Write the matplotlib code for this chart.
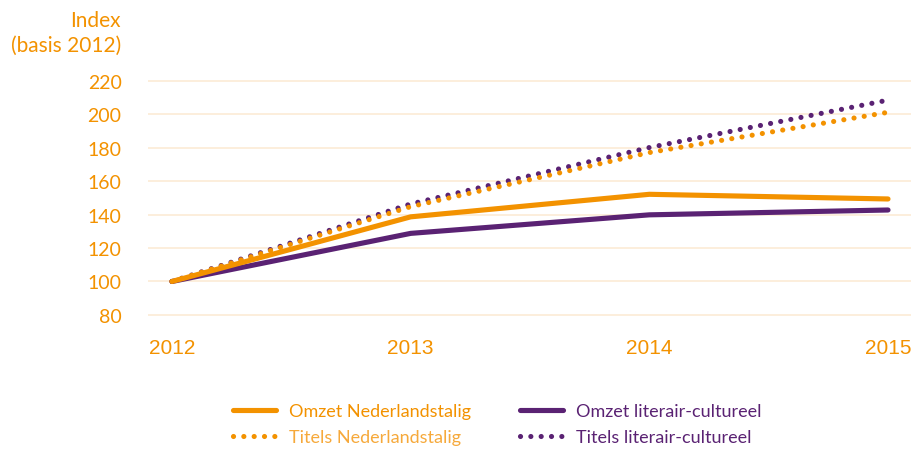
import matplotlib
matplotlib.use('Agg')
import matplotlib.pyplot as plt

plt.rcParams['font.family'] = ['Lato', 'DejaVu Sans']

orange = '#F39200'
orange_light = '#F6A93B'
purple = '#5A2273'
grid_col = '#FCEBD6'

years = [2012, 2013, 2014, 2015]
omzet_nl = [100, 138.7, 152.2, 149.4]
omzet_lit = [100, 128.8, 139.9, 142.8]
titels_nl = [100, 144.8, 177.2, 201.3]
titels_lit = [100, 146.4, 180.2, 208.6]
yticks = [80, 100, 120, 140, 160, 180, 200, 220]

fig = plt.figure(figsize=(9.12, 4.52), dpi=100)
ax = fig.add_axes([0.1623, 0.2938, 0.8377, 0.532])

lw = 3.7
dot = (0, (0.01, 2.0))
l1, = ax.plot(years, omzet_nl, color=orange, lw=lw, solid_capstyle='round',
              solid_joinstyle='round', label='Omzet Nederlandstalig', zorder=4)
l3, = ax.plot(years, omzet_lit, color=purple, lw=lw, solid_capstyle='round',
              solid_joinstyle='round', label='Omzet literair-cultureel', zorder=3)
l2, = ax.plot(years, titels_nl, color=orange, lw=lw, linestyle=dot,
              dash_capstyle='round', label='Titels Nederlandstalig', zorder=2)
l4, = ax.plot(years, titels_lit, color=purple, lw=lw, linestyle=dot,
              dash_capstyle='round', label='Titels literair-cultureel', zorder=1)

ax.set_xlim(2012 - 24 / 238.7, 2015 + 24 / 238.7)
ax.set_ylim(78, 222)
ax.set_yticks(yticks)
ax.set_xticks(years)
ax.set_xticklabels([str(y) for y in years], family=['Liberation Sans'])
ax.yaxis.grid(True, color=grid_col, lw=1.2)
ax.set_axisbelow(True)
for s in ax.spines.values():
    s.set_visible(False)
ax.tick_params(axis='y', length=0, pad=19, labelsize=14, labelcolor=orange)
ax.tick_params(axis='x', length=0, pad=14, labelsize=15, labelcolor=orange)

fig.text(121 / 912, 1 - 11 / 452, 'Index\n(basis 2012)', ha='right', va='top',
         fontsize=15, color=orange, linespacing=1.3)

leg = fig.legend(handles=[l1, l2, l3, l4], ncol=2, loc='center',
                 bbox_to_anchor=(0.545, 0.06), frameon=False, fontsize=13,
                 handlelength=2.4, handletextpad=0.7, columnspacing=2.7,
                 labelspacing=0.55,
                 labelcolor=[orange, orange_light, purple, purple])

plt.savefig('out.png', dpi=100)
